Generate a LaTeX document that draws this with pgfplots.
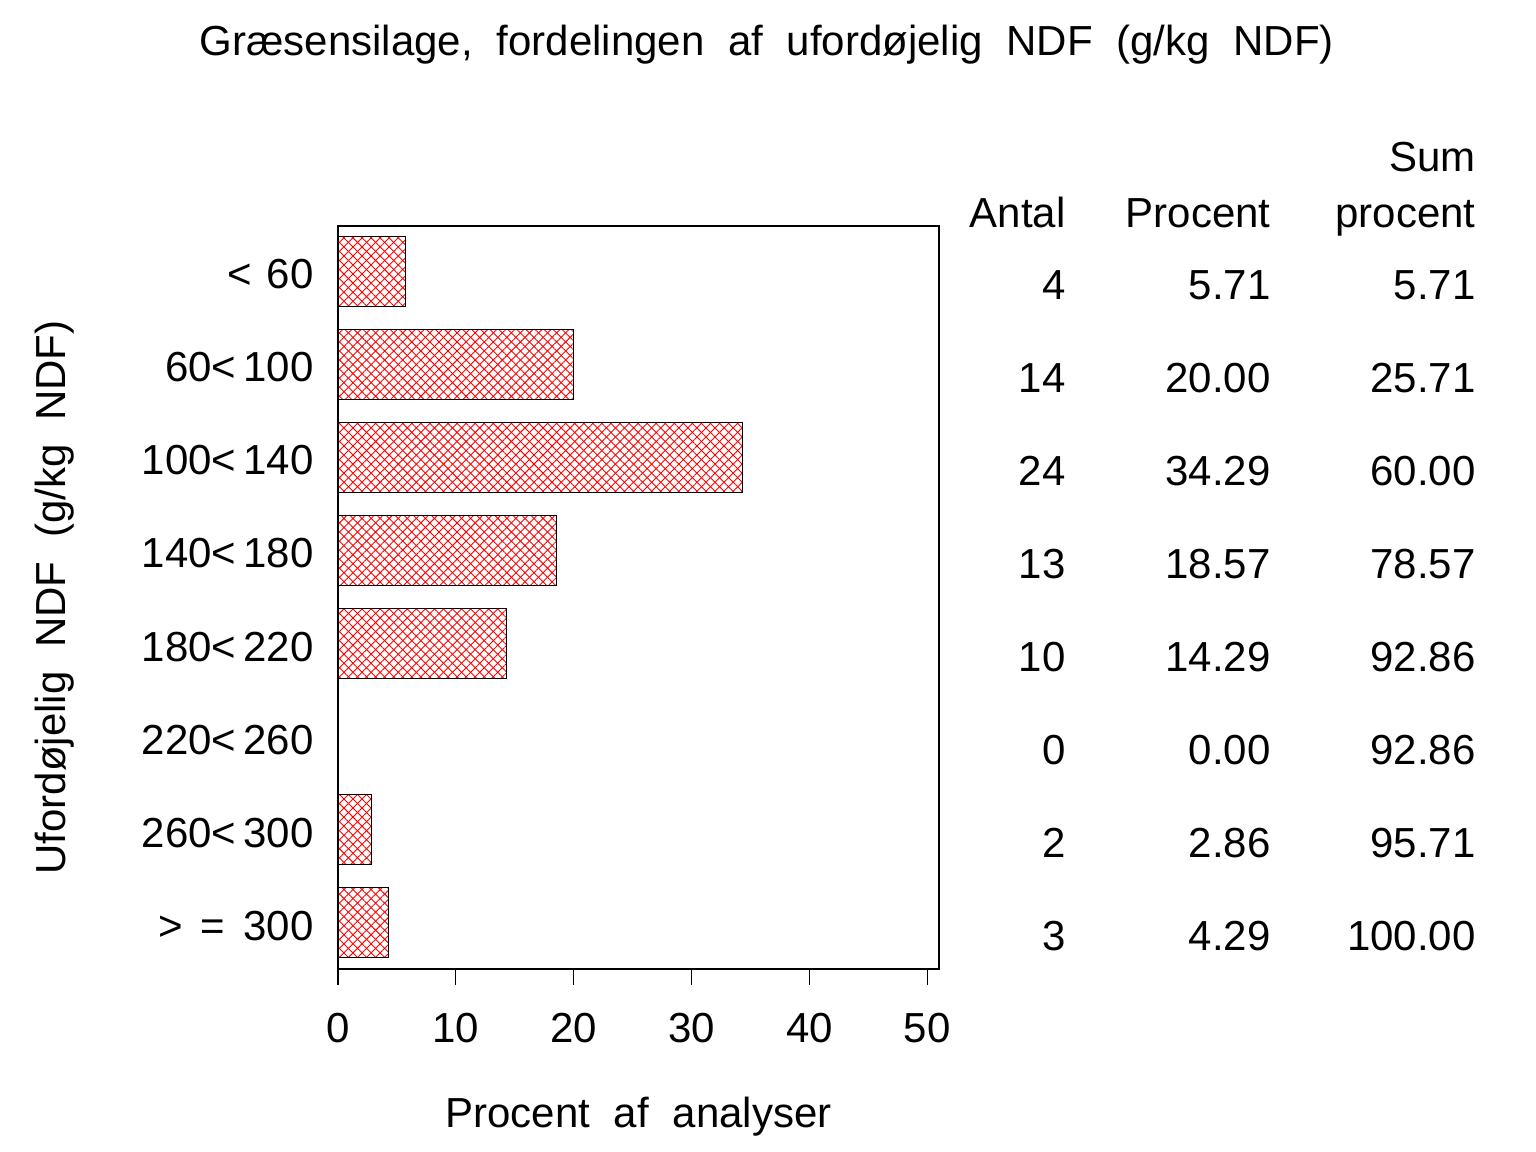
\documentclass[border=0pt]{standalone}
\usepackage{fontspec}
\setmainfont{Liberation Sans}
\usepackage{pgfplots}
\pgfplotsset{compat=1.18}
\usetikzlibrary{patterns.meta}
\newcommand{\bigf}{\fontsize{21bp}{25bp}\selectfont}
\begin{document}
\begin{tikzpicture}
\path[use as bounding box] (0,0) rectangle (768bp,-576bp);
\begin{axis}[
  at={(169bp,-484.5bp)}, anchor=south west,
  width=300.5bp, height=371.5bp, scale only axis,
  xbar, bar width=35bp,
  xmin=0, xmax=51, ymin=0.516, ymax=8.495,
  y dir=reverse,
  xtick={0,10,20,30,40,50},
  xtick pos=bottom, tick align=outside,
  major tick length=8bp,
  ytick={1,2,3,4,5,6,7,8},
  yticklabels={{<\hspace{7.5bp}60},{60<\hspace{3.5bp}100},{100<\hspace{3.5bp}140},{140<\hspace{3.5bp}180},{180<\hspace{3.5bp}220},{220<\hspace{3.5bp}260},{260<\hspace{3.5bp}300},{>\hspace{9bp}=\hspace{9bp}300}},
  y tick style={draw=none},
  /pgf/number format/assume math mode=true,
  ticklabel style={font=\bigf},
  yticklabel style={anchor=east, inner sep=0pt, xshift=-4bp, yshift=-1.5bp},
  xticklabel style={anchor=north, inner sep=0pt, yshift=-14bp},
  axis line style={line width=0.6bp},
  tick style={line width=0.6bp, black},
  xlabel={Procent\hspace{6bp} af\hspace{6bp} analyser},
  ylabel={Ufordøjelig\hspace{6bp} NDF\hspace{6bp} (g/kg\hspace{6bp} NDF)},
  every axis x label/.style={at={(axis description cs:0.5,-0.2127)}, anchor=base, font=\bigf},
  every axis y label/.style={at={(axis description cs:-0.471,0.5)}, anchor=center, rotate=90, font=\bigf},
  clip=false,
]
\addplot[draw=black, line width=0.5bp,
  pattern={Lines[angle=45,distance=3.2bp,line width=0.45bp]}, pattern color=red,
  postaction={pattern={Lines[angle=-45,distance=3.2bp,line width=0.45bp]}, pattern color=red}]
coordinates {(5.71,1) (20.00,2) (34.29,3) (18.57,4) (14.29,5) (0,6) (2.86,7) (4.29,8)};
\end{axis}
\begin{scope}[x=0.5bp,y=-0.5bp]
\node[anchor=base, font=\bigf] at (767,55) {Græsensilage,\hspace{6bp} fordelingen\hspace{6bp} af\hspace{6bp} ufordøjelig\hspace{6bp} NDF\hspace{6bp} (g/kg\hspace{6bp} NDF)};
\node[anchor=base east, font=\bigf, inner sep=0pt] at (1066,228) {Antal};
\node[anchor=base east, font=\bigf, inner sep=0pt] at (1271,228) {Procent};
\node[anchor=base east, font=\bigf, inner sep=0pt] at (1476,172) {Sum};
\node[anchor=base east, font=\bigf, inner sep=0pt] at (1476,228) {procent};
\foreach \n/\p/\s [count=\i from 0] in {4/5.71/5.71, 14/20.00/25.71, 24/34.29/60.00, 13/18.57/78.57, 10/14.29/92.86, 0/0.00/92.86, 2/2.86/95.71, 3/4.29/100.00} {
  \node[anchor=base east, font=\bigf, inner sep=0pt] at (1066,300+93*\i) {\n};
  \node[anchor=base east, font=\bigf, inner sep=0pt] at (1271,300+93*\i) {\p};
  \node[anchor=base east, font=\bigf, inner sep=0pt] at (1476,300+93*\i) {\s};
}
\end{scope}
\end{tikzpicture}
\end{document}
